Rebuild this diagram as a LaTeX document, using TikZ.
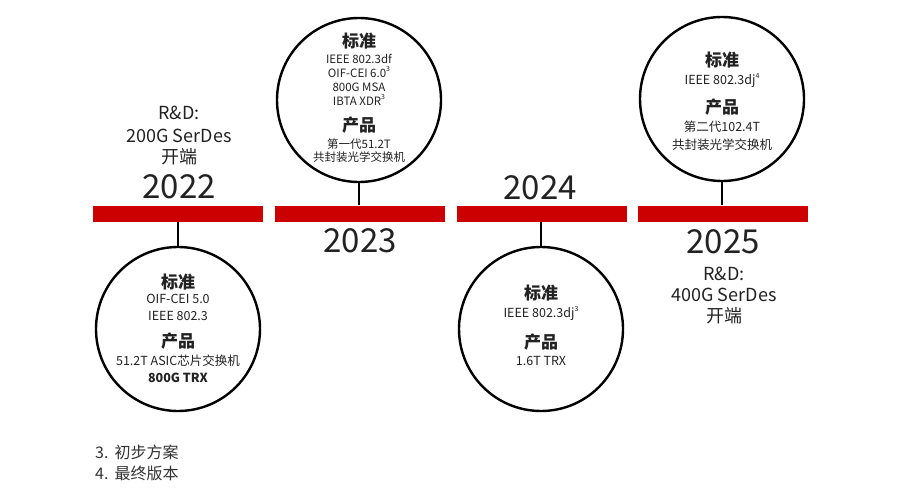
\documentclass[tikz,border=0pt]{standalone}
\usepackage{fontspec}
\setmainfont{Noto Sans CJK SC}
\definecolor{tlred}{HTML}{CC0000}
\definecolor{txt}{HTML}{222222}
\definecolor{fng}{HTML}{333333}
\newcommand\fnsup[1]{\raisebox{0.5em}{\fontsize{7}{7}\selectfont #1}}
\begin{document}
\begin{tikzpicture}[x=1pt,y=-1pt,
  bar/.style={fill=tlred, draw=none, minimum width=170pt, minimum height=16.5pt, inner sep=0pt},
  ring/.style={circle, draw=black, line width=2.4pt, minimum size=164pt, inner sep=0pt},
  link/.style={line width=2.4pt},
  yr/.style={font=\fontsize{33}{33}\selectfont, text=txt, anchor=base, inner sep=0pt},
  rd/.style={font=\fontsize{18}{18}\selectfont, text=txt, anchor=base, inner sep=0pt},
  hd/.style={font=\bfseries\fontsize{17}{17}\selectfont, text=txt, anchor=base, inner sep=0pt},
  bd/.style={font=\fontsize{12.5}{12.5}\selectfont, text=txt, anchor=base, inner sep=0pt},
  bds/.style={font=\fontsize{11.5}{11.5}\selectfont, text=txt, anchor=base, inner sep=0pt},
  fn/.style={font=\fontsize{16}{16}\selectfont, text=fng, anchor=base west, inner sep=0pt}
]
\fill[white] (0,0) rectangle (901,500);
\useasboundingbox (0,0) rectangle (901,500);

% bars
\node[bar] (b1) at (178,213.75) {};
\node[bar] (b2) at (359.5,213.75) {};
\node[bar] (b3) at (541.5,213.75) {};
\node[bar] (b4) at (722.5,213.75) {};

% circles
\node[ring] (c1) at (178,329) {};
\node[ring] (c2) at (359,100) {};
\node[ring] (c3) at (541,329) {};
\node[ring] (c4) at (722,99) {};

% connectors
\draw[link] (c1.north) -- (c1.north |- b1.south);
\draw[link] (c2.south) -- (c2.south |- b2.north);
\draw[link] (c3.north) -- (c3.north |- b3.south);
\draw[link] (c4.south) -- (c4.south |- b4.north);

% years
\node[yr] (y1) at (179,198) {2022};
\node[yr] (y2) at (360,252.5) {2023};
\node[yr] (y3) at (540,199) {2024};
\node[yr] (y4) at (723,253) {2025};

% R&D labels
\node[rd] (r1a) at (179,119.6) {R\&D:};
\node[rd] (r1b) at (179,142.6) {200G SerDes};
\node[rd] (r1c) at (179,163.7) {开端};
\node[rd] (r4a) at (724,280.6) {R\&D:};
\node[rd] (r4b) at (724,301.6) {400G SerDes};
\node[rd] (r4c) at (724,322.7) {开端};

% circle 1 text
\node[hd] (t1a) at (178,288.3) {标准};
\node[bd] (t1b) at (178,303.8) {OIF-CEI 5.0};
\node[bd] (t1c) at (178,320.8) {IEEE 802.3};
\node[hd] (t1d) at (178,347.3) {产品};
\node[bd] (t1e) at (178,365.8) {51.2T ASIC芯片交换机};
\node[bd,font=\bfseries\fontsize{12.5}{12.5}\selectfont] (t1f) at (178,382.8) {800G TRX};

% circle 2 text
\node[hd] (t2a) at (359,47.3) {标准};
\node[bds] (t2b) at (359,63.2) {IEEE 802.3df};
\node[bds] (t2c) at (359,77.2) {OIF-CEI 6.0\fnsup{3}};
\node[bds] (t2d) at (359,91.2) {800G MSA};
\node[bds] (t2e) at (359,105.2) {IBTA XDR\fnsup{3}};
\node[hd] (t2f) at (359,131.3) {产品};
\node[bds] (t2g) at (359,148.2) {第一代51.2T};
\node[bds] (t2h) at (359,161.2) {共封装光学交换机};

% circle 3 text
\node[hd] (t3a) at (541,299.3) {标准};
\node[bd] (t3b) at (541,317.8) {IEEE 802.3dj\fnsup{3}};
\node[hd] (t3c) at (541,348.3) {产品};
\node[bd] (t3d) at (541,365.8) {1.6T TRX};

% circle 4 text
\node[hd] (t4a) at (722,66.3) {标准};
\node[bd] (t4b) at (722,84.6) {IEEE 802.3dj\fnsup{4}};
\node[hd] (t4c) at (722,113.3) {产品};
\node[bd] (t4d) at (722,131.6) {第二代102.4T};
\node[bd] (t4e) at (722,149.6) {共封装光学交换机};

% footnotes
\node[fn] (f3) at (95,458) {3.\hspace{6pt}初步方案};
\node[fn] (f4) at (95,479) {4.\hspace{6pt}最终版本};
\end{tikzpicture}
\end{document}
